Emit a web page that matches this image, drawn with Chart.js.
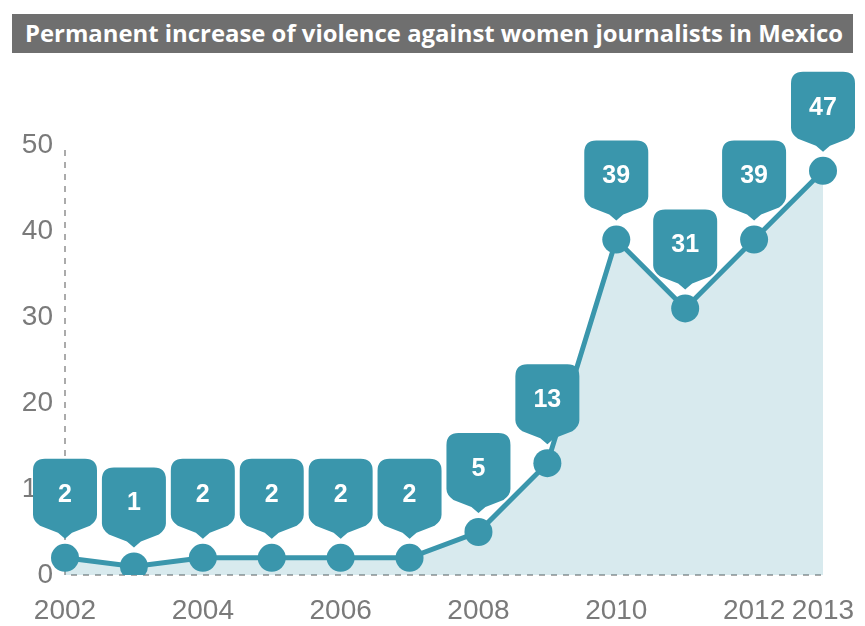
<!DOCTYPE html>
<html><head><meta charset="utf-8">
<script src="https://cdn.jsdelivr.net/npm/chart.js@4"></script>
<style>
html,body{margin:0;padding:0;background:#fff;}
#wrap{position:relative;width:865px;height:626px;overflow:hidden;}
#title{position:absolute;left:12px;top:14px;width:841px;height:39px;background:#6f6f6f;color:#fff;font-family:'Open Sans',sans-serif;font-weight:700;font-size:23px;line-height:39px;white-space:nowrap;overflow:hidden;z-index:2;}
#tt{position:absolute;left:13px;top:0;transform-origin:0 50%;}
canvas{position:absolute;left:0;top:0;}
</style></head><body>
<div id="wrap"><canvas id="c" width="865" height="626"></canvas><div id="title"><span id="tt">Permanent increase of violence against women journalists in Mexico</span></div></div>
<script>
const years = ['2002','2003','2004','2005','2006','2007','2008','2009','2010','2011','2012','2013'];
const counts = [2, 1, 2, 2, 2, 2, 5, 13, 39, 31, 39, 47];
const shownYearLabels = ['2002','2004','2006','2008','2010','2012','2013'];
const yMin = 0, yMax = 50, yStep = 10;

// fit title text width
(function(){
  const t = document.getElementById('tt');
  const w = t.getBoundingClientRect().width;
  const target = 818;
  t.style.transform = 'scaleX(' + (target / w) + ')';
})();

const TEAL = '#3a96ac';

const axisLinesPlugin = {
  id: 'axisLines',
  beforeDatasetsDraw(chart) {
    const ctx = chart.ctx, a = chart.chartArea;
    const ys = chart.scales.y;
    ctx.save();
    ctx.strokeStyle = '#ababab';
    ctx.lineWidth = 2;
    ctx.setLineDash([6, 6]);
    ctx.beginPath();
    ctx.moveTo(a.left, ys.getPixelForValue(yMax) + 5);
    ctx.lineTo(a.left, a.bottom);
    ctx.stroke();
    ctx.beginPath();
    ctx.moveTo(a.left + 6, a.bottom);
    ctx.lineTo(a.right, a.bottom);
    ctx.stroke();
    ctx.restore();
  }
};

const calloutPlugin = {
  id: 'callouts',
  afterDatasetsDraw(chart) {
    const meta = chart.getDatasetMeta(0);
    const ctx = chart.ctx;
    ctx.save();
    meta.data.forEach((pt, i) => {
      const cx = pt.x, cy = pt.y;
      const tipY = cy - 19;
      const top = cy - 99;
      const w = 64, rad = 12;
      const l = cx - w / 2, r = cx + w / 2;
      const bot = top + 56;
      ctx.beginPath();
      ctx.moveTo(l + rad, top);
      ctx.lineTo(r - rad, top);
      ctx.quadraticCurveTo(r, top, r, top + rad);
      ctx.lineTo(r, bot);
      ctx.quadraticCurveTo(r, bot + 6, r - 7, bot + 11);
      ctx.lineTo(cx + 7, tipY - 6);
      ctx.quadraticCurveTo(cx, tipY, cx, tipY);
      ctx.lineTo(cx - 7, tipY - 6);
      ctx.lineTo(l + 7, bot + 11);
      ctx.quadraticCurveTo(l, bot + 6, l, bot);
      ctx.lineTo(l, top + rad);
      ctx.quadraticCurveTo(l, top, l + rad, top);
      ctx.closePath();
      ctx.fillStyle = TEAL;
      ctx.fill();
      ctx.fillStyle = '#ffffff';
      ctx.font = 'bold 25px "Liberation Sans", Arial, sans-serif';
      ctx.textAlign = 'center';
      ctx.textBaseline = 'middle';
      ctx.fillText(String(counts[i]), cx, top + 36);
    });
    ctx.restore();
  }
};

new Chart(document.getElementById('c'), {
  type: 'line',
  data: {
    labels: years,
    datasets: [{
      data: counts,
      borderColor: TEAL,
      borderWidth: 5,
      backgroundColor: 'rgba(58,150,172,0.2)',
      fill: 'origin',
      tension: 0,
      pointRadius: 14,
      pointBackgroundColor: TEAL,
      pointBorderColor: TEAL,
      pointBorderWidth: 0
    }]
  },
  options: {
    responsive: false,
    animation: false,
    devicePixelRatio: 1,
    layout: { padding: { top: 145, right: 42, left: 0, bottom: 0 } },
    plugins: { legend: { display: false }, tooltip: { enabled: false }, title: { display: false } },
    scales: {
      x: {
        type: 'category',
        offset: false,
        afterFit: (s) => { s.height = 51; s.paddingRight = 0; s.paddingLeft = 0; },
        grid: { display: false, drawTicks: false },
        border: { display: false },
        ticks: {
          autoSkip: false,
          maxRotation: 0,
          padding: 19,
          color: '#7a7a7a',
          font: { family: '"Liberation Sans", Arial, sans-serif', size: 28 },
          callback: function(v, idx) { const lab = years[idx]; return shownYearLabels.includes(lab) ? lab : ''; }
        }
      },
      y: {
        min: yMin, max: yMax,
        afterFit: (s) => { s.width = 65; s.paddingTop = 0; s.paddingBottom = 0; },
        grid: { display: false, drawTicks: false },
        border: { display: false },
        ticks: {
          stepSize: yStep,
          padding: 12,
          color: '#7a7a7a',
          font: { family: '"Liberation Sans", Arial, sans-serif', size: 28 }
        }
      }
    }
  },
  plugins: [axisLinesPlugin, calloutPlugin]
});
</script>
</body></html>
